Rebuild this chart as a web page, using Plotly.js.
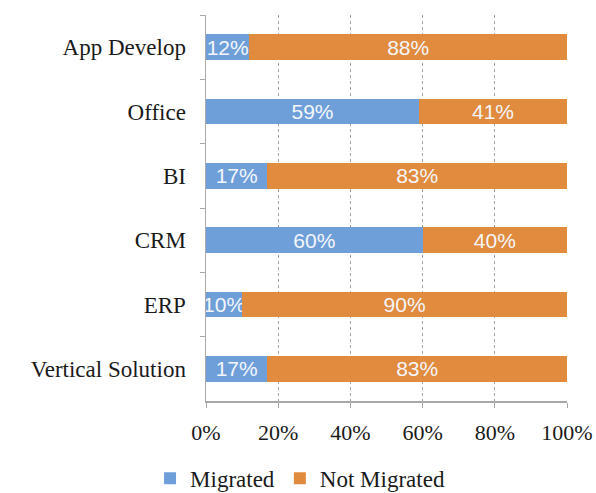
<!DOCTYPE html>
<html>
<head>
<meta charset="utf-8">
<script src="https://cdn.plot.ly/plotly-3.0.1.min.js"></script>
<style>html,body{margin:0;padding:0;background:#fff;}#chart{width:596px;height:493px;}</style>
</head>
<body>
<div id="chart"></div>
<script>
var categories = ['App Develop', 'Office', 'BI', 'CRM', 'ERP', 'Vertical Solution'];
var migrated = [12, 59, 17, 60, 10, 17];
var notMigrated = [88, 41, 83, 40, 90, 83];
var xTicks = [0, 20, 40, 60, 80, 100];

var barText = {family: 'Liberation Sans, Arial, sans-serif', size: 21, color: '#f4f6fb'};

function pct(arr) { return arr.map(function(v){ return v + '%'; }); }

var traces = [
  {
    type: 'bar', orientation: 'h', name: 'Migrated',
    y: categories, x: migrated, text: pct(migrated),
    marker: {color: '#6f9fd9'},
    width: 0.4,
    texttemplate: '%{text}', textposition: 'inside', insidetextanchor: 'middle',
    constraintext: 'none', textfont: barText, cliponaxis: false,
    hoverinfo: 'skip'
  },
  {
    type: 'bar', orientation: 'h', name: 'Not Migrated',
    y: categories, x: notMigrated, text: pct(notMigrated),
    marker: {color: '#e08b3e'},
    width: 0.4,
    texttemplate: '%{text}', textposition: 'inside', insidetextanchor: 'middle',
    constraintext: 'none', textfont: barText, cliponaxis: false,
    hoverinfo: 'skip'
  }
];

var layout = {
  width: 596, height: 493,
  margin: {l: 206, r: 29, t: 15, b: 92, autoexpand: false},
  barmode: 'stack',
  paper_bgcolor: '#fff', plot_bgcolor: '#fff',
  font: {family: 'Liberation Serif, Times New Roman, serif', size: 20, color: '#1a1a1a'},
  showlegend: true,
  legend: {
    orientation: 'h', x: -0.155, xanchor: 'left', y: -0.2, yanchor: 'middle',
    font: {family: 'Liberation Serif, serif', size: 23, color: '#1a1a1a'},
    itemwidth: 30, traceorder: 'normal'
  },
  xaxis: {
    range: [0, 100], tickvals: xTicks, ticktext: pct(xTicks),
    showgrid: true, gridcolor: '#a0a0a0', griddash: 'dot', gridwidth: 1,
    showline: true, linecolor: '#a8a8a8', linewidth: 1.5,
    ticks: 'outside', ticklen: 5, tickcolor: '#a8a8a8',
    ticklabelstandoff: 6, automargin: false,
    zeroline: false, fixedrange: true,
    tickfont: {size: 22}
  },
  yaxis: {
    type: 'category', autorange: 'reversed',
    categoryorder: 'array', categoryarray: categories,
    showline: true, linecolor: '#a8a8a8', linewidth: 1.5,
    ticks: 'outside', tickson: 'boundaries', ticklen: 5, tickcolor: '#a8a8a8',
    ticklabelstandoff: 14, automargin: false,
    showgrid: false, zeroline: false, fixedrange: true,
    tickfont: {size: 23}
  }
};

Plotly.newPlot('chart', traces, layout, {displayModeBar: false, staticPlot: true});
</script>
</body>
</html>
